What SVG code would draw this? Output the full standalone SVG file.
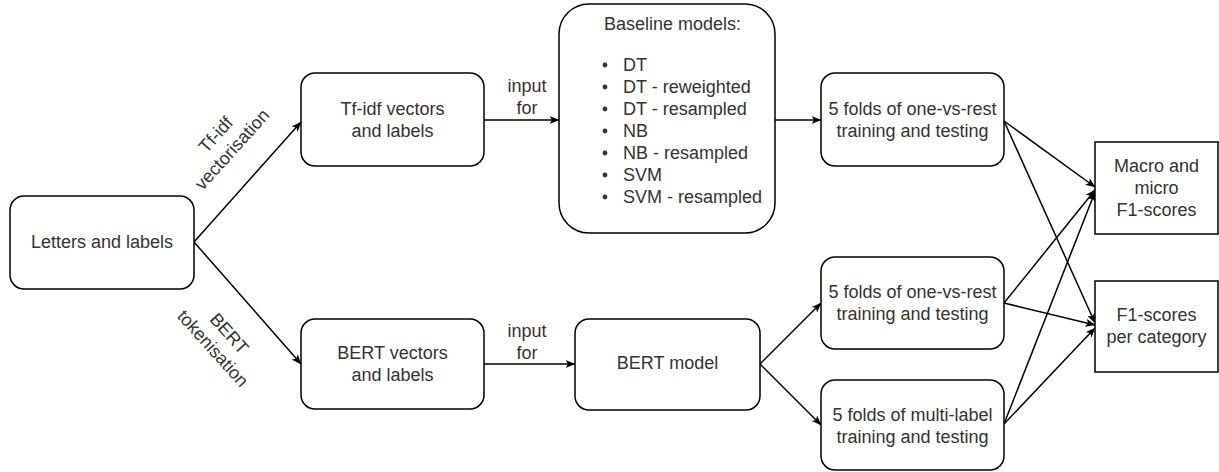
<svg xmlns="http://www.w3.org/2000/svg" width="1219" height="472" viewBox="0 0 1219 472">
  <style>
    .box { fill: #ffffff; stroke: #000000; stroke-width: 1.5; }
    .edge { fill: none; stroke: #000000; stroke-width: 1.5; marker-end: url(#arrow); }
    text { font-family: "Liberation Sans", Arial, Helvetica, sans-serif; font-size: 18px; fill: #333333; }
    .c { text-anchor: middle; dominant-baseline: central; }
    .l { text-anchor: start; dominant-baseline: central; }
    .dot { fill: #333333; }
  </style>
  <defs>
    <marker id="arrow" markerUnits="userSpaceOnUse" viewBox="0 0 10 8" refX="9.5" refY="4" markerWidth="10" markerHeight="8" orient="auto">
      <path d="M0,0 L10,4 L0,8 L2.5,4 Z" fill="#000000"/>
    </marker>
  </defs>

  <!-- connectors -->
  <g id="connectors">
    <path class="edge" d="M194,242 L301,122"/>
    <path class="edge" d="M194,242 L301,364"/>
    <path class="edge" d="M484,120 L559,120"/>
    <path class="edge" d="M775,120 L821,120"/>
    <path class="edge" d="M484,364 L575,364"/>
    <path class="edge" d="M760,364 L821,303"/>
    <path class="edge" d="M760,364 L821,425"/>
    <path class="edge" d="M1004,121 L1095,187"/>
    <path class="edge" d="M1004,121 L1095,323"/>
    <path class="edge" d="M1004,303 L1095,190"/>
    <path class="edge" d="M1004,303 L1095,325"/>
    <path class="edge" d="M1004,424 L1095,192"/>
    <path class="edge" d="M1004,424 L1095,328"/>
    <!-- edge labels -->
    <g transform="translate(224,142) rotate(-48)">
      <text class="c" x="0" y="-11">Tf-idf</text>
      <text class="c" x="0" y="11">vectorisation</text>
    </g>
    <g transform="translate(221,341) rotate(48)">
      <text class="c" x="0" y="-11">BERT</text>
      <text class="c" x="0" y="11">tokenisation</text>
    </g>
    <text class="c" x="527" y="86">input</text>
    <text class="c" x="527" y="108">for</text>
    <text class="c" x="527" y="331">input</text>
    <text class="c" x="527" y="353">for</text>
  </g>

  <g id="letters">
    <rect class="box" x="10" y="196" width="184" height="93" rx="14"/>
    <text class="c" x="102" y="242">Letters and labels</text>
  </g>

  <g id="tfidf">
    <rect class="box" x="301" y="73" width="183" height="93" rx="14"/>
    <text class="c" x="392.5" y="109">Tf-idf vectors</text>
    <text class="c" x="392.5" y="131">and labels</text>
  </g>

  <g id="bert-vectors">
    <rect class="box" x="301" y="319" width="183" height="90" rx="14"/>
    <text class="c" x="392.5" y="353">BERT vectors</text>
    <text class="c" x="392.5" y="375">and labels</text>
  </g>

  <g id="baseline">
    <rect class="box" x="559" y="4" width="216" height="229" rx="30"/>
    <text class="l" x="604" y="24">Baseline models:</text>
    <circle class="dot" cx="605" cy="65" r="2.4"/>
    <text class="l" x="623" y="64.5">DT</text>
    <circle class="dot" cx="605" cy="87" r="2.4"/>
    <text class="l" x="623" y="86.5">DT - reweighted</text>
    <circle class="dot" cx="605" cy="109" r="2.4"/>
    <text class="l" x="623" y="108.5">DT - resampled</text>
    <circle class="dot" cx="605" cy="131" r="2.4"/>
    <text class="l" x="623" y="130.5">NB</text>
    <circle class="dot" cx="605" cy="153" r="2.4"/>
    <text class="l" x="623" y="152.5">NB - resampled</text>
    <circle class="dot" cx="605" cy="175" r="2.4"/>
    <text class="l" x="623" y="174.5">SVM</text>
    <circle class="dot" cx="605" cy="197" r="2.4"/>
    <text class="l" x="623" y="196.5">SVM - resampled</text>
  </g>

  <g id="bert-model">
    <rect class="box" x="575" y="319" width="185" height="91" rx="14"/>
    <text class="c" x="667.5" y="363">BERT model</text>
  </g>

  <g id="folds-ovr-baseline">
    <rect class="box" x="821" y="73" width="183" height="93" rx="14"/>
    <text class="c" x="912.5" y="109">5 folds of one-vs-rest</text>
    <text class="c" x="912.5" y="131">training and testing</text>
  </g>

  <g id="folds-ovr-bert">
    <rect class="box" x="821" y="257" width="183" height="92" rx="14"/>
    <text class="c" x="912.5" y="292">5 folds of one-vs-rest</text>
    <text class="c" x="912.5" y="314">training and testing</text>
  </g>

  <g id="folds-multilabel">
    <rect class="box" x="821" y="380" width="183" height="90" rx="14"/>
    <text class="c" x="912.5" y="415">5 folds of multi-label</text>
    <text class="c" x="912.5" y="437">training and testing</text>
  </g>

  <g id="macro-micro">
    <rect class="box" x="1095" y="142" width="123" height="92"/>
    <text class="c" x="1156.5" y="166">Macro and</text>
    <text class="c" x="1156.5" y="188">micro</text>
    <text class="c" x="1156.5" y="210">F1-scores</text>
  </g>

  <g id="per-category">
    <rect class="box" x="1095" y="281" width="123" height="91"/>
    <text class="c" x="1156.5" y="315">F1-scores</text>
    <text class="c" x="1156.5" y="337">per category</text>
  </g>
</svg>
